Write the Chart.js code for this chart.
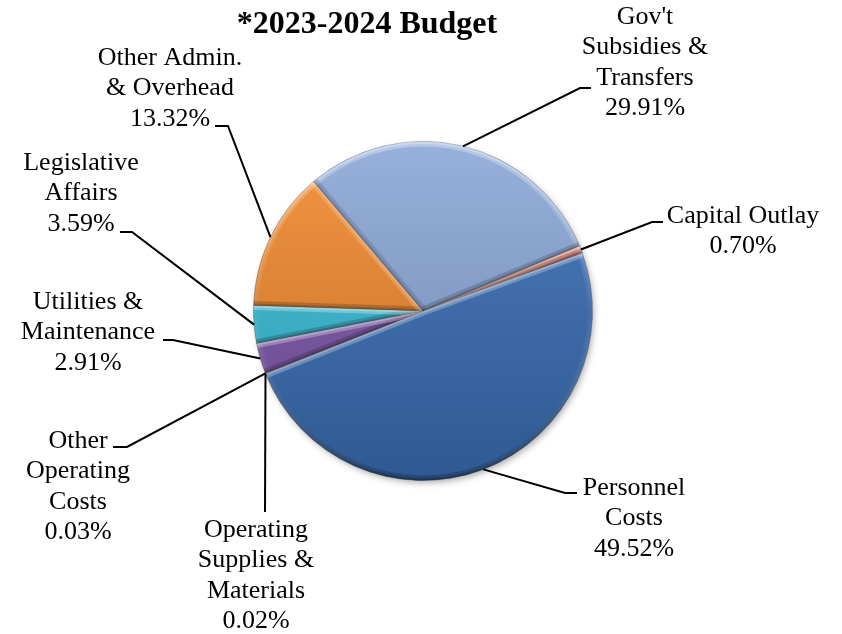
<!DOCTYPE html>
<html>
<head>
<meta charset="utf-8">
<title>2023-2024 Budget</title>
<script src="https://cdn.jsdelivr.net/npm/chart.js@4.4.1/dist/chart.umd.min.js"></script>
<style>
  html, body { margin: 0; padding: 0; background: #fff; }
  .chart-box { width: 842px; height: 634px; position: relative; }
</style>
</head>
<body>
<div class="chart-box"><canvas id="budget"></canvas></div>
<script>
const chartTitle = "*2023-2024 Budget";
const categories = [
  ["Personnel", "Costs"],
  ["Operating", "Supplies &", "Materials"],
  ["Other", "Operating", "Costs"],
  ["Utilities &", "Maintenance"],
  ["Legislative", "Affairs"],
  ["Other Admin.", "& Overhead"],
  ["Gov't", "Subsidies &", "Transfers"],
  ["Capital Outlay"]
];
const shares = [49.52, 0.02, 0.03, 2.91, 3.59, 13.32, 29.91, 0.70];
const sliceColors = ["#3a6fb6", "#9bbb59", "#c0504d", "#7e57ad", "#38bfd9", "#f28a2e", "#8ba8d8", "#e07b6d"];

// where each callout sits: text centre x, first baseline y, leader elbow, end of the short tick
const labelSpots = [
  { x: 634, y: 495, elbow: [565, 493], tick: [577, 493] },
  { x: 256, y: 537, elbow: [265, 512], tick: null },
  { x: 78, y: 448, elbow: [127, 447], tick: [113, 447] },
  { x: 88, y: 309, elbow: [173, 340], tick: [163, 340] },
  { x: 81, y: 170, elbow: [132, 232], tick: [120, 232] },
  { x: 170, y: 65, elbow: [228, 126], tick: [215, 126] },
  { x: 645, y: 24, elbow: [580, 88], tick: [591, 88] },
  { x: 743, y: 223, elbow: [652, 222], tick: [663, 222] }
];

// mix a hex colour toward white (amt > 0) or black (amt < 0)
function shade(hex, amt) {
  const n = parseInt(hex.slice(1), 16);
  const t = amt < 0 ? 0 : 255, p = Math.abs(amt);
  const mix = (v) => Math.round(v + (t - v) * p);
  return "rgb(" + mix(n >> 16) + "," + mix((n >> 8) & 255) + "," + mix(n & 255) + ")";
}

function sliceFill(ctx) {
  const chart = ctx.chart;
  const area = chart.chartArea;
  const base = sliceColors[ctx.dataIndex];
  if (!area) return base;
  const g = chart.ctx.createLinearGradient(0, area.top, 0, area.bottom);
  g.addColorStop(0, shade(base, 0.1));
  g.addColorStop(1, shade(base, -0.2));
  return g;
}

function arcProps(arc) {
  return arc.getProps(["x", "y", "startAngle", "endAngle", "outerRadius"], true);
}

// soft drop shadow under the pie and a bevel along every slice edge
const bevelPlugin = {
  id: "bevel",
  beforeDatasetsDraw(chart) {
    const p = arcProps(chart.getDatasetMeta(0).data[0]);
    const c = chart.ctx;
    c.save();
    c.shadowColor = "rgba(0,0,0,0.35)";
    c.shadowBlur = 7;
    c.shadowOffsetX = 2;
    c.shadowOffsetY = 3;
    c.beginPath();
    c.arc(p.x, p.y, p.outerRadius - 1, 0, Math.PI * 2);
    c.fillStyle = "#888";
    c.fill();
    c.restore();
  },
  afterDatasetsDraw(chart) {
    const c = chart.ctx;
    chart.getDatasetMeta(0).data.forEach((arc) => {
      const { x, y, startAngle, endAngle, outerRadius: r } = arcProps(arc);
      c.save();
      c.beginPath();
      c.moveTo(x, y);
      c.arc(x, y, r, startAngle, endAngle);
      c.closePath();
      c.clip();

      const rim = c.createLinearGradient(0, y - r, 0, y + r);
      rim.addColorStop(0, "rgba(255,255,255,0.3)");
      rim.addColorStop(0.5, "rgba(255,255,255,0.02)");
      rim.addColorStop(1, "rgba(0,0,0,0.22)");
      c.strokeStyle = rim;
      [10, 5].forEach((w) => {
        c.lineWidth = w;
        c.beginPath();
        c.arc(x, y, r, startAngle, endAngle);
        c.stroke();
      });

      // straight edges: lit when the edge faces up, shaded when it faces down
      [[startAngle, -Math.cos(startAngle)], [endAngle, Math.cos(endAngle)]].forEach(([a, ny]) => {
        c.strokeStyle = ny < 0
          ? "rgba(255,255,255," + (0.28 * -ny).toFixed(3) + ")"
          : "rgba(0,0,0," + (0.18 * ny).toFixed(3) + ")";
        [9, 4].forEach((w) => {
          c.lineWidth = w;
          c.beginPath();
          c.moveTo(x, y);
          c.lineTo(x + Math.cos(a) * r, y + Math.sin(a) * r);
          c.stroke();
        });
      });
      c.restore();
    });
  }
};

const calloutPlugin = {
  id: "callouts",
  afterDraw(chart) {
    const c = chart.ctx;
    c.save();
    c.strokeStyle = "#000";
    c.lineWidth = 2;
    c.fillStyle = "#000";
    c.textAlign = "center";
    c.textBaseline = "alphabetic";
    chart.getDatasetMeta(0).data.forEach((arc, i) => {
      const spot = labelSpots[i];
      const { x, y, startAngle, endAngle, outerRadius } = arcProps(arc);
      const mid = (startAngle + endAngle) / 2;
      c.beginPath();
      c.moveTo(x + Math.cos(mid) * outerRadius, y + Math.sin(mid) * outerRadius);
      c.lineTo(spot.elbow[0], spot.elbow[1]);
      if (spot.tick) c.lineTo(spot.tick[0], spot.tick[1]);
      c.stroke();

      c.font = "26px 'Liberation Serif', 'Times New Roman', serif";
      const lines = categories[i].concat(shares[i].toFixed(2) + "%");
      lines.forEach((t, k) => c.fillText(t, spot.x, spot.y + k * 30.3));
    });
    c.font = "bold 32px 'Liberation Serif', 'Times New Roman', serif";
    c.fillText(chartTitle, 367, 33);
    c.restore();
  }
};

new Chart(document.getElementById("budget"), {
  type: "pie",
  data: {
    labels: categories,
    datasets: [
      {
        data: shares,
        backgroundColor: sliceFill,
        borderColor: "rgba(50,50,50,0.35)",
        borderWidth: 1
      }
    ]
  },
  options: {
    responsive: true,
    maintainAspectRatio: false,
    animation: false,
    rotation: 70,
    layout: { padding: { left: 253, right: 249, top: 141, bottom: 153 } },
    plugins: {
      legend: { display: false },
      tooltip: { enabled: false }
    }
  },
  plugins: [bevelPlugin, calloutPlugin]
});
</script>
</body>
</html>
